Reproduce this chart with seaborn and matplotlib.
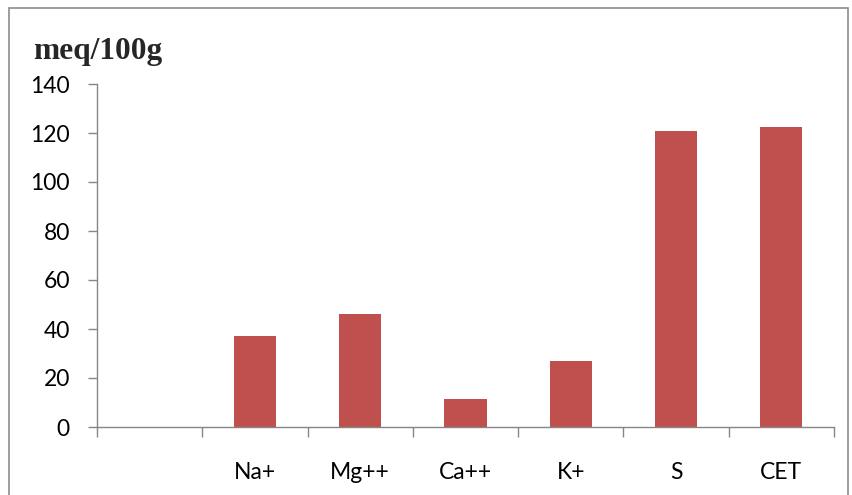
import matplotlib
matplotlib.use("Agg")
import matplotlib.pyplot as plt
import seaborn as sns
import pandas as pd
from matplotlib.patches import Rectangle

categories = ["Na+", "Mg++", "Ca++", "K+", "S", "CET"]
values = [37, 46, 11.3, 27, 120.7, 122.4]
order = [" "] + categories
yticks = [0, 20, 40, 60, 80, 100, 120, 140]

sns.set_style("white")
plt.rcParams['font.family'] = ['Lato', 'DejaVu Sans']

W, H = 853, 495
fig = plt.figure(figsize=(W / 100, H / 100), dpi=100)
ax = fig.add_axes([97 / W, 1 - 427 / H, (834 - 97) / W, (427 - 84) / H])

df = pd.DataFrame({"cat": categories, "val": values})
sns.barplot(data=df, x="cat", y="val", order=order, color="#C0504D",
            saturation=1, width=0.4, linewidth=0, ax=ax)

ax.set_xlim(-0.5, len(order) - 0.5)
ax.set_ylim(0, 140)
ax.set_yticks(yticks)
ax.set_xlabel("")
ax.set_ylabel("")

for s in ["top", "right"]:
    ax.spines[s].set_visible(False)
for s in ["left", "bottom"]:
    ax.spines[s].set_color("#868686")
    ax.spines[s].set_linewidth(1.0)

ax.tick_params(axis="y", direction="out", length=6.5, width=1, color="#868686",
               pad=13, labelsize=16.5, labelcolor="black", left=True)
ax.tick_params(axis="x", which="major", length=0, pad=25, labelsize=16.5, labelcolor="black")
ax.set_xticks([i - 0.5 for i in range(len(order) + 1)], minor=True)
ax.tick_params(axis="x", which="minor", direction="out", length=7, width=1,
               color="#868686", bottom=True)

fig.text(33 / W, 1 - 59 / H, "meq/100g", family=["Liberation Serif", "DejaVu Serif"],
         fontweight="bold", fontsize=22.6, va="baseline", ha="left")

fig.patches.append(Rectangle((9 / W, -0.05), (848 - 9) / W, 1.05 - 8 / H,
                             transform=fig.transFigure, fill=False,
                             edgecolor="#8c8c8c", linewidth=1.2))

fig.savefig("out.png", dpi=100)
